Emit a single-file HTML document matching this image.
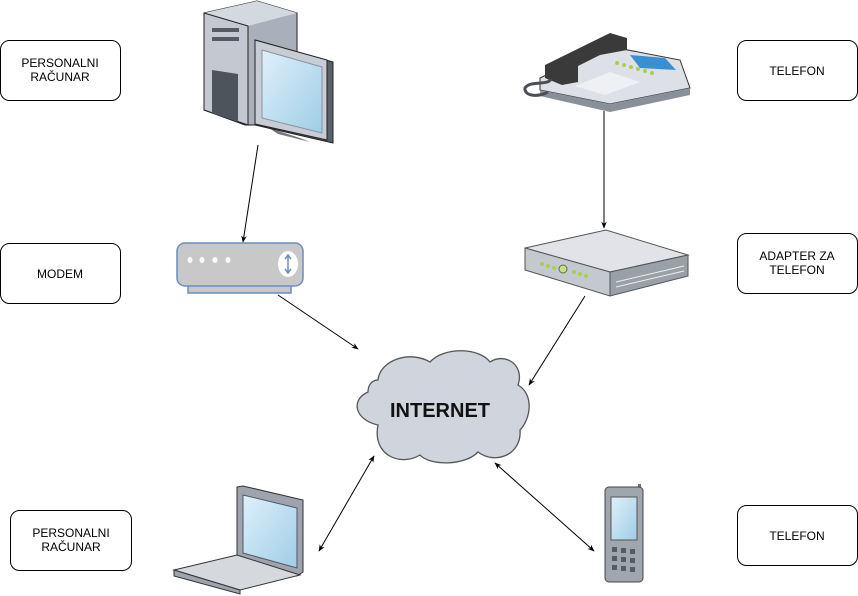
<!DOCTYPE html>
<html><head><meta charset="utf-8"><style>
html,body{margin:0;padding:0;background:#fff;}
svg{display:block;font-family:"Liberation Sans",Arial,sans-serif;}
</style></head><body>
<svg width="858" height="596" viewBox="0 0 858 596" xmlns="http://www.w3.org/2000/svg">
<defs>
<marker id="a" viewBox="0 0 10 10" refX="9" refY="5" markerWidth="7" markerHeight="7" orient="auto-start-reverse"><path d="M0,1 L10,5 L0,9 L3,5 z" fill="#000"/></marker>
<linearGradient id="scr" x1="0" y1="0" x2="1" y2="1"><stop offset="0" stop-color="#dff0fa"/><stop offset="1" stop-color="#9fcde6"/></linearGradient>
</defs>
<g fill="#fff" stroke="#000" stroke-width="1">
<rect x="0.5" y="40.5" width="120" height="60" rx="9"/>
<rect x="737.5" y="40.5" width="120" height="60" rx="9"/>
<rect x="0.5" y="243.5" width="120" height="60" rx="9"/>
<rect x="737.5" y="233.5" width="120" height="60" rx="9"/>
<rect x="10.5" y="510.5" width="121" height="60" rx="9"/>
<rect x="737.5" y="505.5" width="120" height="60" rx="9"/>
</g>
<g font-size="12" fill="#000" text-anchor="middle">
<text x="60" y="67">PERSONALNI</text><text x="60" y="81">RAČUNAR</text>
<text x="797" y="75">TELEFON</text>
<text x="60" y="278">MODEM</text>
<text x="797" y="260">ADAPTER ZA</text><text x="797" y="274">TELEFON</text>
<text x="71" y="537">PERSONALNI</text><text x="71" y="551">RAČUNAR</text>
<text x="797" y="540">TELEFON</text>
</g>
<!-- computer -->
<polygon points="204,13 257,1 297,13 297,125 245,125 204,110" fill="#aab0bb" stroke="#222"/>
<polygon points="204,13 257,1 297,13 248,26" fill="#d4d8df"/>
<polygon points="204,13 248,26 248,125 204,110" fill="#c4c8d0" stroke="#222"/>
<rect x="212" y="28" width="27" height="4" fill="#555b63"/><rect x="212" y="37" width="27" height="4" fill="#555b63"/>
<polygon points="212,70 238,74 238,122 212,113" fill="#4d545b"/>
<polygon points="269,128 300,138 310,142 278,134" fill="#777"/>
<polygon points="255,40 333,62 333,143 255,125" fill="#5a6068" stroke="#222"/>
<polygon points="255,40 327,60 327,140 255,124" fill="#c8ccd4" stroke="#222"/>
<polygon points="262,50 322,67 322,133 262,118" fill="url(#scr)" stroke="#8892a0"/>
<!-- modem -->
<rect x="188" y="283" width="103" height="10" fill="#c8c8c8" stroke="#6c8ebf" stroke-width="1.5"/>
<rect x="177" y="243" width="126" height="43" rx="8" fill="#c8c8c8" stroke="#6c8ebf" stroke-width="1.5"/>
<g fill="#fff"><ellipse cx="190" cy="260" rx="2.5" ry="3"/><ellipse cx="202" cy="260" rx="2.5" ry="3"/><ellipse cx="215" cy="260" rx="2.5" ry="3"/><ellipse cx="228" cy="260" rx="2.5" ry="3"/>
<ellipse cx="288" cy="264" rx="10" ry="13"/></g>
<path d="M288,256 V272" stroke="#6c8ebf" stroke-width="1.5"/><path d="M285,259 L288,255 L291,259 M285,269 L288,273 L291,269" stroke="#6c8ebf" fill="none" stroke-width="1.5"/>
<!-- desk phone -->
<polygon points="540,78 607,46 680,60 690,88 610,104 540,90" fill="#dde0e6" stroke="#333"/>
<polygon points="540,90 610,104 690,88 690,95 610,112 540,96" fill="#8a9099"/>
<polygon points="630,55 665,58 676,70 640,68" fill="#3b8fd0"/>
<polygon points="575,86 610,72 640,82 605,95" fill="#eef0f3"/>
<g fill="#a8d050"><circle cx="617" cy="63" r="2"/><circle cx="624" cy="65" r="2"/><circle cx="631" cy="67" r="2"/><circle cx="638" cy="69" r="2"/><circle cx="645" cy="71" r="2"/><circle cx="652" cy="73" r="2"/></g>
<path d="M545,65 L610,33 L627,38 L627,50 L600,55 L578,66 L578,82 L562,85 L545,78 Z" fill="#3a3a3a"/>
<path d="M551,79 C548,86 530,80 525,88 C524,97 540,97 548,92" stroke="#4a4f56" stroke-width="3" fill="none"/>
<!-- adapter -->
<polygon points="525,248 606,230 688,255 610,272" fill="#e1e3e8" stroke="#555"/>
<polygon points="525,248 610,272 610,296 525,270" fill="#c4c8cf" stroke="#555"/>
<polygon points="610,272 688,255 688,276 610,296" fill="#9aa0a8" stroke="#555"/>
<g stroke="#eee"><line x1="616" y1="282" x2="684" y2="266"/><line x1="616" y1="287" x2="684" y2="271"/></g>
<g fill="#a8d050"><circle cx="542" cy="264" r="2"/><circle cx="548" cy="266" r="2"/><circle cx="554" cy="268" r="2"/><circle cx="574" cy="272" r="2"/><circle cx="580" cy="274" r="2"/><circle cx="586" cy="276" r="2"/></g>
<circle cx="563" cy="269" r="4" fill="#c8e080" stroke="#666"/>
<!-- cloud -->
<path d="M378,380 C380,360 410,350 430,362 C445,346 480,348 490,362 C505,352 525,365 518,385 C535,395 530,420 520,430 C522,455 495,465 478,452 C465,466 430,466 420,455 C400,467 372,455 378,425 C355,420 350,400 368,392 C368,385 372,380 378,380 Z" fill="#d0d4dc" stroke="#555" stroke-width="1.3"/>
<text x="440" y="417" font-size="20" font-weight="bold" text-anchor="middle" fill="#111">INTERNET</text>
<!-- laptop -->
<polygon points="237,487 243,486 303,500 303,572 297,576 237,560" fill="#9ea4ad" stroke="#333"/>
<polygon points="243,495 297,508 297,568 243,553" fill="url(#scr)" stroke="#556"/>
<polygon points="174,570 237,555 300,575 240,590" fill="#d5d8dd" stroke="#333"/>
<polygon points="174,570 240,590 240,594 174,576" fill="#9ea4ad" stroke="#333"/>
<!-- mobile -->
<rect x="638" y="484" width="3" height="12" fill="#777"/>
<rect x="605" y="487" width="38" height="95" rx="4" fill="#a0a6ae" stroke="#444"/>
<rect x="611" y="497" width="26" height="43" fill="url(#scr)" stroke="#555"/>
<g fill="#555b63"><rect x="612" y="547" width="5" height="5"/><rect x="621" y="548" width="5" height="5"/><rect x="630" y="549" width="5" height="5"/><rect x="612" y="556" width="5" height="5"/><rect x="621" y="557" width="5" height="5"/><rect x="630" y="558" width="5" height="5"/><rect x="612" y="565" width="5" height="5"/><rect x="621" y="566" width="5" height="5"/><rect x="630" y="567" width="5" height="5"/></g>
<!-- arrows -->
<g stroke="#000" stroke-width="1" fill="none">
<line x1="258" y1="145" x2="243" y2="242" marker-end="url(#a)"/>
<line x1="278" y1="295" x2="358" y2="349" marker-end="url(#a)"/>
<line x1="604" y1="111" x2="604" y2="228" marker-end="url(#a)"/>
<line x1="585" y1="296" x2="529" y2="385" marker-end="url(#a)"/>
<line x1="374" y1="456" x2="319" y2="551" marker-start="url(#a)" marker-end="url(#a)"/>
<line x1="495" y1="463" x2="594" y2="551" marker-start="url(#a)" marker-end="url(#a)"/>
</g>
</svg>
</body></html>
